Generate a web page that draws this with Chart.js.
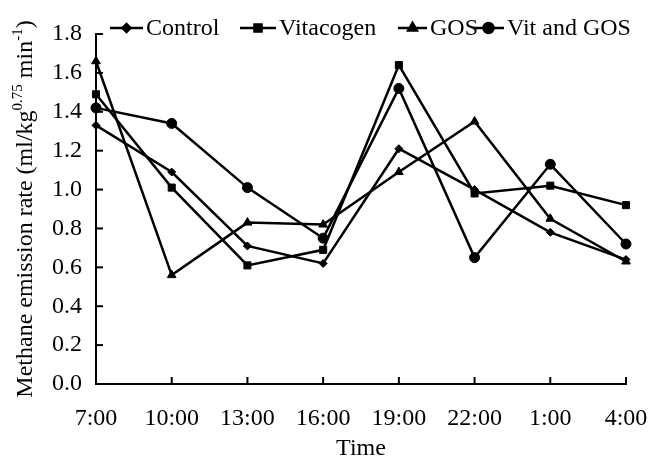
<!DOCTYPE html>
<html><head><meta charset="utf-8">
<script src="https://cdn.jsdelivr.net/npm/chart.js@4"></script>
<style>html,body{margin:0;padding:0;background:#fff}#wrap{width:651px;height:461px}</style>
</head><body><div id="wrap"><canvas id="c" width="651" height="461"></canvas></div>
<script>
const categories = ["7:00","10:00","13:00","16:00","19:00","22:00","1:00","4:00"];
const control = [1.33,1.09,0.71,0.62,1.21,1.00,0.78,0.64];
const vitacogen = [1.49,1.01,0.61,0.69,1.64,0.98,1.02,0.92];
const gos = [1.66,0.56,0.83,0.82,1.09,1.35,0.85,0.63];
const vitAndGos = [1.42,1.34,1.01,0.75,1.52,0.65,1.13,0.72];
const seriesNames = ["Control","Vitacogen","GOS","Vit and GOS"];
const yTicks = [0,0.2,0.4,0.6,0.8,1.0,1.2,1.4,1.6,1.8];
const xTitle = "Time";

const FONT = "Liberation Serif";
const styles = [
  {pointStyle:'rectRot', radius:4},
  {pointStyle:'rect', radius:5},
  {pointStyle:'triangle', radius:5},
  {pointStyle:'circle', radius:5}
];
const dataSets = [control, vitacogen, gos, vitAndGos];

const legendPlugin = {
  id:'customLegend',
  afterDraw(chart){
    const ctx = chart.ctx;
    ctx.save();
    ctx.font = `24px "${FONT}"`;
    ctx.textBaseline = 'middle';
    ctx.fillStyle = '#000';
    const y = 28;
    const items = [[110,33],[240,36],[398,29],[473,31]];
    chart.data.datasets.forEach((ds,i)=>{
      const [x0,len] = items[i];
      ctx.strokeStyle='#000'; ctx.lineWidth=2.5;
      ctx.beginPath(); ctx.moveTo(x0,y); ctx.lineTo(x0+len,y); ctx.stroke();
      ctx.fillStyle='#000';
      Chart.helpers.drawPoint(ctx,{pointStyle:styles[i].pointStyle,radius:styles[i].radius,borderWidth:1},x0+len/2,y);
      ctx.fillText(ds.label, x0+len+3, y+1);
    });
    ctx.restore();
  }
};

const yTitlePlugin = {
  id:'yTitle',
  afterDraw(chart){
    const ctx = chart.ctx;
    ctx.save();
    ctx.translate(24, 209);
    ctx.rotate(-Math.PI/2);
    ctx.fillStyle='#000';
    ctx.textBaseline='alphabetic';
    const parts = [
      {t:"Methane emission rate (ml/kg", s:24, dy:0},
      {t:"0.75", s:15, dy:-10},
      {t:" min", s:24, dy:0},
      {t:"-1", s:15, dy:-10},
      {t:")", s:24, dy:0}
    ];
    let total = 0;
    parts.forEach(p=>{ctx.font=`${p.s}px "${FONT}"`; p.w=ctx.measureText(p.t).width; total+=p.w;});
    let x = -total/2;
    parts.forEach(p=>{ctx.font=`${p.s}px "${FONT}"`; ctx.fillText(p.t,x,8+p.dy); x+=p.w;});
    ctx.restore();
  }
};

const innerTickPlugin = {
  id:'innerTicks',
  afterDraw(chart){
    const ctx = chart.ctx, xs = chart.scales.x, ys = chart.scales.y, ca = chart.chartArea;
    ctx.save(); ctx.strokeStyle='#000'; ctx.lineWidth=2;
    xs.ticks.forEach((t,i)=>{
      const px = xs.getPixelForTick(i);
      ctx.beginPath(); ctx.moveTo(px,ca.bottom); ctx.lineTo(px,ca.bottom-7); ctx.stroke();
    });
    ys.ticks.forEach((t,i)=>{
      const py = ys.getPixelForTick(i);
      ctx.beginPath(); ctx.moveTo(ca.left,py); ctx.lineTo(ca.left+7,py); ctx.stroke();
    });
    ctx.restore();
  }
};

new Chart(document.getElementById('c'),{
  type:'line',
  data:{
    labels:categories,
    datasets:dataSets.map((d,i)=>({
      label:seriesNames[i], data:d,
      borderColor:'#000', backgroundColor:'#000', borderWidth:2.5,
      pointStyle:styles[i].pointStyle, pointRadius:styles[i].radius,
      pointBackgroundColor:'#000', pointBorderColor:'#000', pointBorderWidth:1,
      tension:0, fill:false
    }))
  },
  options:{
    responsive:false, animation:false, devicePixelRatio:1,
    layout:{padding:{top:34,right:25,left:0,bottom:0}},
    plugins:{legend:{display:false}, tooltip:{enabled:false}},
    scales:{
      x:{
        offset:false,
        grid:{display:false, drawTicks:false},
        border:{display:true,color:'#000',width:2},
        ticks:{color:'#000',font:{family:FONT,size:24},padding:20,maxRotation:0,autoSkip:false},
        title:{display:true,text:xTitle,color:'#000',font:{family:FONT,size:24,lineHeight:1},padding:{top:0,bottom:0}},
        afterFit(s){ s.height = 461-384; s.paddingLeft = 0; s.paddingRight = 0; }
      },
      y:{
        min:0,max:1.8,
        afterBuildTicks(s){ s.ticks = yTicks.map(v=>({value:v})); },
        grid:{display:false, drawTicks:false},
        border:{display:true,color:'#000',width:2},
        ticks:{color:'#000',font:{family:FONT,size:24},padding:14,callback:v=>v.toFixed(1)},
        afterFit(s){ s.width = 96; s.paddingTop = 0; s.paddingBottom = 0; }
      }
    }
  },
  plugins:[legendPlugin,yTitlePlugin,innerTickPlugin]
});
</script></body></html>
